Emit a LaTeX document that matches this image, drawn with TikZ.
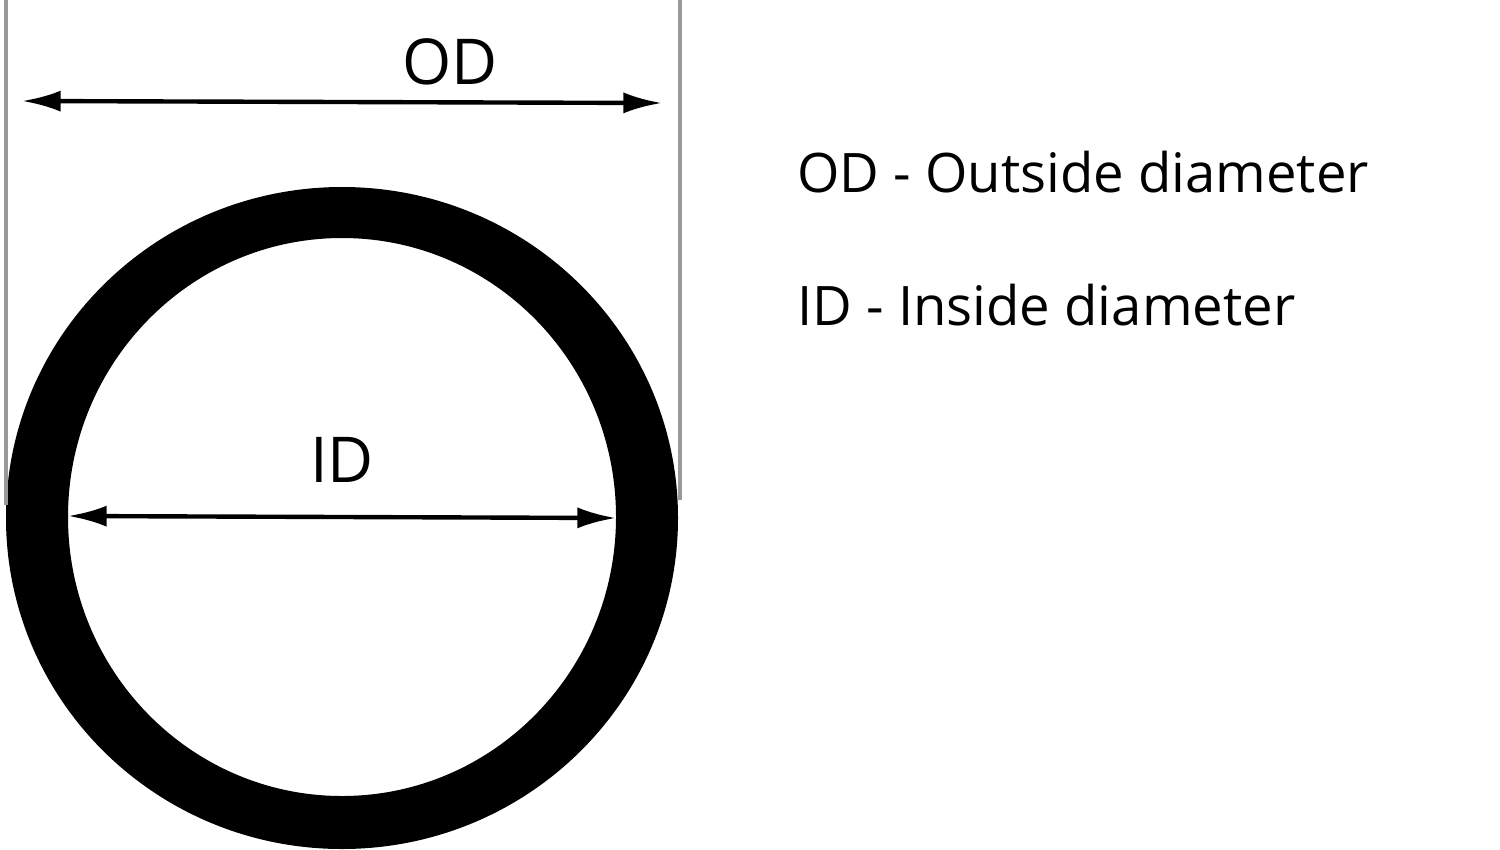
\documentclass[tikz,border=0pt]{standalone}
\usepackage{fontspec}
\setmainfont{Open Sans}
\usetikzlibrary{arrows.meta}
\begin{document}
\begin{tikzpicture}[x=0.02cm,y=-0.02cm,
  guide/.style={draw=gray!80,line width=2.5pt},
  dim/.style={line width=2.5pt,{Latex[length=22pt,width=12pt]}-{Latex[length=22pt,width=12pt]}},
  lbl/.style={font=\fontsize{36}{40}\selectfont,inner sep=0pt},
  legend/.style={font=\fontsize{31}{36}\selectfont,inner sep=0pt,anchor=base west}]
\useasboundingbox (0,0) rectangle (1500,849);
\fill[black,even odd rule] (342,518) ellipse [x radius=336,y radius=331] (342,517) ellipse [x radius=274,y radius=279];
\draw[guide] (6,0) -- (6,505);
\draw[guide] (680,0) -- (680,500);
\coordinate (oda) at (22,101); \coordinate (odb) at (662,103);
\coordinate (ida) at (68,516); \coordinate (idb) at (616,518);
\draw[dim] (oda) -- (odb);
\draw[dim] (ida) -- (idb);
\node[lbl] (od) at (450,62) {OD};
\node[lbl] (id) at (342,460) {ID};
\node[legend] (l1) at (797,192) {OD - Outside diameter};
\node[legend] (l2) at (797,325) {ID - Inside diameter};
\end{tikzpicture}
\end{document}
